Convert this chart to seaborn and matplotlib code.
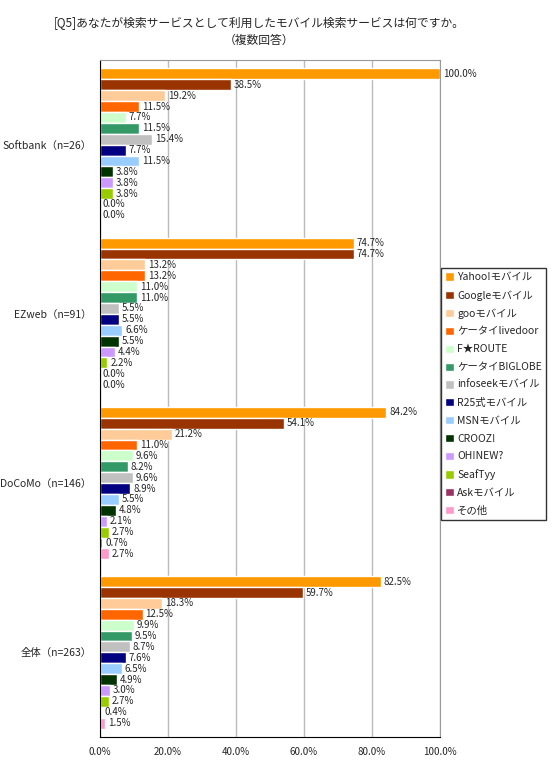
import pandas as pd
import matplotlib
matplotlib.use("Agg")
import matplotlib.pyplot as plt
import seaborn as sns

# data
groups = ["Softbank（n=26）", "EZweb（n=91）", "DoCoMo（n=146）", "全体（n=263）"]
services = ["Yahoo!モバイル", "Googleモバイル", "gooモバイル", "ケータイlivedoor",
            "F★ROUTE", "ケータイBIGLOBE", "infoseekモバイル", "R25式モバイル",
            "MSNモバイル", "CROOZ!", "OH!NEW?", "SeafTyy", "Askモバイル", "その他"]
softbank = [100.0, 38.5, 19.2, 11.5, 7.7, 11.5, 15.4, 7.7, 11.5, 3.8, 3.8, 3.8, 0.0, 0.0]
ezweb = [74.7, 74.7, 13.2, 13.2, 11.0, 11.0, 5.5, 5.5, 6.6, 5.5, 4.4, 2.2, 0.0, 0.0]
docomo = [84.2, 54.1, 21.2, 11.0, 9.6, 8.2, 9.6, 8.9, 5.5, 4.8, 2.1, 2.7, 0.7, 2.7]
total = [82.5, 59.7, 18.3, 12.5, 9.9, 9.5, 8.7, 7.6, 6.5, 4.9, 3.0, 2.7, 0.4, 1.5]
colors = ["#FF9900", "#993300", "#FFCC99", "#FF6600", "#CCFFCC", "#339966", "#C0C0C0",
          "#000080", "#99CCFF", "#003300", "#CC99FF", "#99CC00", "#993366", "#FF99CC"]

rows = []
for g, vals in zip(groups, [softbank, ezweb, docomo, total]):
    for s, v in zip(services, vals):
        rows.append({"group": g, "service": s, "value": v})
df = pd.DataFrame(rows)

sns.set_style("white")
plt.rcParams["font.family"] = ["Noto Sans CJK JP", "DejaVu Sans"]

fig = plt.figure(figsize=(5.53, 7.61), dpi=100)
ax = fig.add_axes([100 / 553, 1 - 737 / 761, 340 / 553, 677 / 761])

sns.barplot(data=df, y="group", x="value", hue="service", orient="h",
            palette=colors, width=0.9, saturation=1, order=groups,
            hue_order=services, ax=ax, legend=True)

for c in ax.containers:
    ax.bar_label(c, fmt="%.1f%%", padding=2, fontsize=7, clip_on=False)

ax.set_xlim(0, 100)
ax.set_ylim(3.5, -0.5)
ax.set_xticks([0, 20, 40, 60, 80, 100])
ax.set_xticklabels([f"{t:.1f}%" for t in [0, 20, 40, 60, 80, 100]], fontsize=7)
ax.tick_params(axis="x", length=0, pad=7)
ax.tick_params(axis="y", length=0, pad=6, labelsize=7.5)
ax.set_yticks([-0.5, 0.5, 1.5, 2.5, 3.5], minor=True)
ax.tick_params(axis="y", which="minor", length=4, direction="out", color="black")
ax.xaxis.grid(True, color="#BBBBBB", linewidth=1)
ax.set_axisbelow(True)
ax.set_xlabel("")
ax.set_ylabel("")
ax.spines["left"].set_color("black")
ax.spines["bottom"].set_color("black")
ax.spines["top"].set_color("#999999")
ax.spines["right"].set_color("#999999")

handles, labels = ax.get_legend_handles_labels()
ax.legend_.remove()
leg = fig.legend(handles, labels, loc="upper left",
                 bbox_to_anchor=(441 / 553, 1 - 268 / 761), fontsize=7.5,
                 frameon=True, fancybox=False, edgecolor="black",
                 handlelength=0.85, handleheight=0.85, handletextpad=0.3,
                 labelspacing=0.75, borderpad=0.4, borderaxespad=0)
leg.get_frame().set_linewidth(1)

fig.text(259 / 553, 1 - 24 / 761, "[Q5]あなたが検索サービスとして利用したモバイル検索サービスは何ですか。",
         ha="center", va="center", fontsize=8.5)
fig.text(259 / 553, 1 - 40 / 761, "（複数回答）", ha="center", va="center", fontsize=8.5)

fig.savefig("out.png", dpi=100)
